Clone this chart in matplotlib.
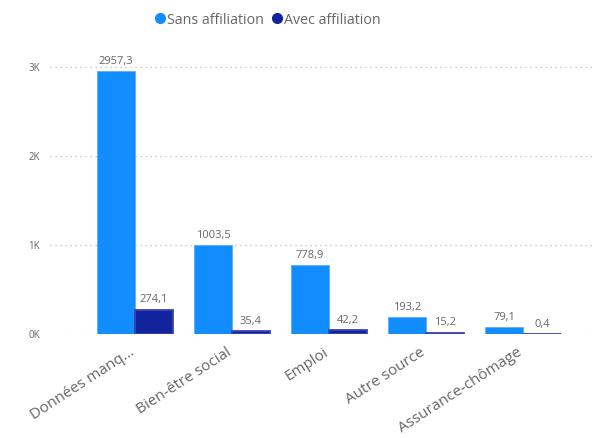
import matplotlib

matplotlib.use("Agg")
import matplotlib.pyplot as plt
from matplotlib.lines import Line2D
from matplotlib.ticker import FuncFormatter
from matplotlib.transforms import ScaledTranslation

categories = ["Données manq...", "Bien-être social", "Emploi", "Autre source", "Assurance-chômage"]
sans_affiliation = [2957.3, 1003.5, 778.9, 193.2, 79.1]
avec_affiliation = [274.1, 35.4, 42.2, 15.2, 0.4]
y_ticks = [0, 1000, 2000, 3000]

LIGHT = "#118DFF"
DARK = "#12239E"
GREY = "#666666"

plt.rcParams["font.family"] = ["Open Sans", "DejaVu Sans"]


def fmt(v: float) -> str:
    return f"{v:.1f}".replace(".", ",")


fig = plt.figure(figsize=(5.94, 4.38), dpi=100)
ax = fig.add_axes([50 / 594, 1 - 334 / 438, 544 / 594, 284 / 438])

x = list(range(len(categories)))
w = 0.39
bars1 = ax.bar([i - w / 2 for i in x], sans_affiliation, width=w, color=LIGHT,
               edgecolor="#5aaeff", linewidth=0.6)
bars2 = ax.bar([i + w / 2 for i in x], avec_affiliation, width=w, color=DARK,
               edgecolor="#3a44b0", linewidth=1.3)

for bars in (bars1, bars2):
    for b in bars:
        ax.annotate(fmt(b.get_height()), (b.get_x() + b.get_width() / 2, b.get_height()),
                    xytext=(0, 3), textcoords="offset points", ha="center", va="bottom",
                    fontsize=8, color=GREY)

ax.set_xlim(-0.876, len(categories) - 1 + 0.73)
ax.set_ylim(0, 3191)
ax.set_yticks(y_ticks)
ax.yaxis.set_major_formatter(FuncFormatter(lambda v, _: f"{int(v / 1000)}K"))
ax.grid(axis="y", linestyle=(0, (1, 3)), color="#bbbbbb", linewidth=0.9)
ax.set_axisbelow(True)
for s in ax.spines.values():
    s.set_visible(False)
ax.tick_params(axis="y", length=0, labelsize=7, labelcolor=GREY, pad=7)
ax.tick_params(axis="x", length=0, labelsize=11, labelcolor=GREY, pad=8)
ax.set_xticks(x)
ax.set_xticklabels(categories, rotation=33, ha="right", rotation_mode="anchor")
shift = ScaledTranslation(-6 / 100, 0, fig.dpi_scale_trans)
for lbl in ax.get_xticklabels():
    lbl.set_transform(lbl.get_transform() + shift)

handles = [
    Line2D([], [], marker="o", linestyle="", color=LIGHT, markersize=7),
    Line2D([], [], marker="o", linestyle="", color=DARK, markersize=7),
]
fig.legend(handles, ["Sans affiliation", "Avec affiliation"], loc="center",
           bbox_to_anchor=(267 / 594, 1 - 20 / 438), ncol=2, frameon=False, fontsize=10.3,
           labelcolor=GREY, handletextpad=0.0, columnspacing=0.5, handlelength=0.9)

fig.savefig("out.png", dpi=100)
plt.close(fig)
